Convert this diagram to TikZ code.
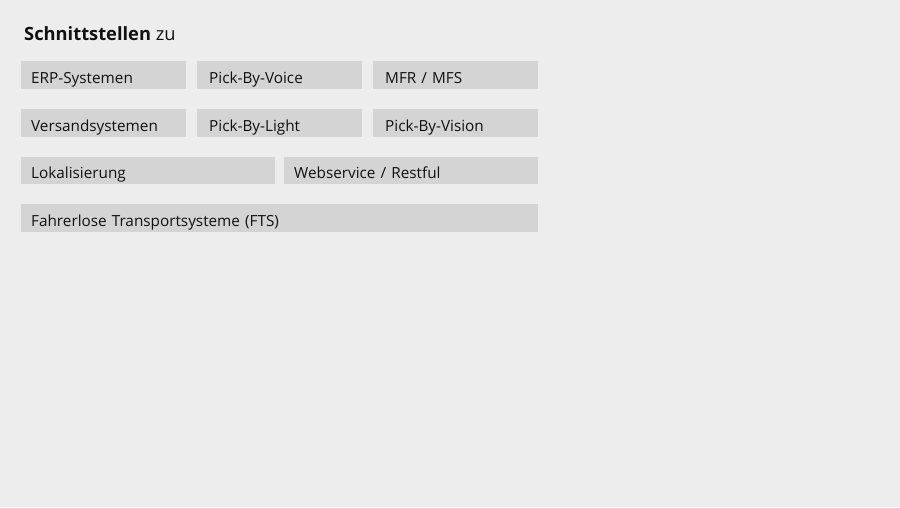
\documentclass[tikz,border=0pt]{standalone}
\usepackage{fontspec}
\setmainfont{Open Sans}
\definecolor{bg}{HTML}{EDEDED}
\definecolor{boxfill}{HTML}{D4D4D4}
\definecolor{ink}{HTML}{111111}
\begin{document}
\begin{tikzpicture}[x=1pt,y=-1pt,
  itembox/.style={fill=boxfill, draw=none, anchor=north west, minimum height=27.5pt,
    inner xsep=10pt, inner ysep=0pt, text height=18pt, text depth=1.5pt,
    font=\fontsize{15.3}{18}\selectfont, text=ink, align=left},
  w1/.style={minimum width=164.5pt, text width=144.5pt},
  w1b/.style={minimum width=164.5pt, text width=140.5pt, inner xsep=12pt},
  w2/.style={minimum width=254pt, text width=234pt},
  w3/.style={minimum width=516.5pt, text width=496.5pt}]
\fill[bg] (0,0) rectangle (900,507);
\useasboundingbox (0,0) rectangle (900,507);
\node[anchor=base west, inner sep=0pt, text=ink, font=\fontsize{18.3}{21}\selectfont] (title) at (24,40) {\textbf{Schnittstellen} zu};
\node[itembox,w1] (erp) at (21,61) {ERP-Systemen};
\node[itembox,w1b] (voice) at (197,61) {Pick-By-Voice};
\node[itembox,w1b] (mfr) at (373,61) {MFR / MFS};
\node[itembox,w1] (vers) at (21,109) {Versandsystemen};
\node[itembox,w1b] (light) at (197,109) {Pick-By-Light};
\node[itembox,w1b] (vision) at (373,109) {Pick-By-Vision};
\node[itembox,w2] (lok) at (21,156.3) {Lokalisierung};
\node[itembox,w2] (web) at (284,156.3) {Webservice / Restful};
\node[itembox,w3] (fts) at (21,204) {Fahrerlose Transportsysteme (FTS)};
\end{tikzpicture}
\end{document}
